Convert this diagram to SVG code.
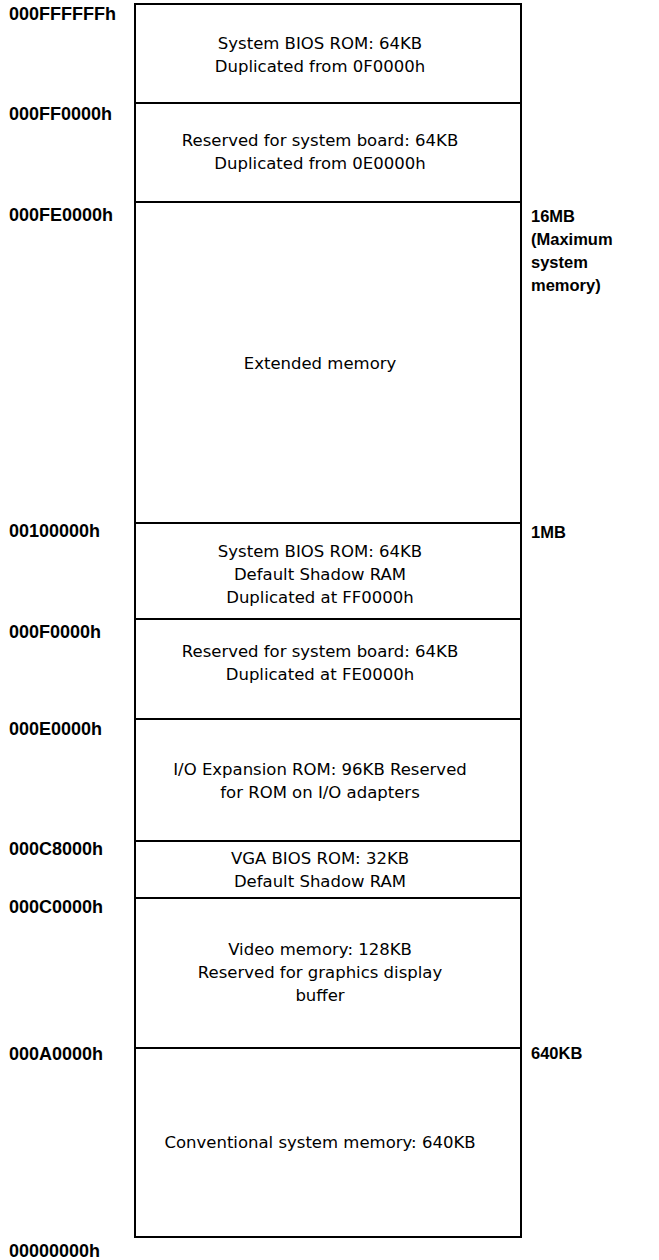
<svg xmlns="http://www.w3.org/2000/svg" width="659" height="1260" viewBox="0 0 659 1260">
<style>
.blk{fill:#fff;stroke:#000;stroke-width:2}
.t{font-family:"DejaVu Sans","Liberation Sans",sans-serif;font-size:16.5px;fill:#000;text-anchor:middle}
.a{font-family:"Liberation Sans",Arial,sans-serif;font-size:18px;font-weight:bold;fill:#000}
.s{font-family:"Liberation Sans",Arial,sans-serif;font-size:16.5px;font-weight:bold;fill:#000}
</style>
<rect width="659" height="1260" fill="#fff"/>
<g id="blk-bios-hi"><rect class="blk" x="135" y="4" width="386" height="99"/>
<text class="t" x="320" y="49">System BIOS ROM: 64KB</text><text class="t" x="320" y="72">Duplicated from 0F0000h</text></g>
<g id="blk-board-hi"><rect class="blk" x="135" y="103" width="386" height="99"/>
<text class="t" x="320" y="146">Reserved for system board: 64KB</text><text class="t" x="320" y="169">Duplicated from 0E0000h</text></g>
<g id="blk-extended"><rect class="blk" x="135" y="202" width="386" height="321"/>
<text class="t" x="320" y="369">Extended memory</text></g>
<g id="blk-bios-lo"><rect class="blk" x="135" y="523" width="386" height="96"/>
<text class="t" x="320" y="557">System BIOS ROM: 64KB</text><text class="t" x="320" y="580">Default Shadow RAM</text><text class="t" x="320" y="603">Duplicated at FF0000h</text></g>
<g id="blk-board-lo"><rect class="blk" x="135" y="619" width="386" height="100"/>
<text class="t" x="320" y="657">Reserved for system board: 64KB</text><text class="t" x="320" y="680">Duplicated at FE0000h</text></g>
<g id="blk-io"><rect class="blk" x="135" y="719" width="386" height="122"/>
<text class="t" x="320" y="775">I/O Expansion ROM: 96KB Reserved</text><text class="t" x="320" y="798">for ROM on I/O adapters</text></g>
<g id="blk-vga"><rect class="blk" x="135" y="841" width="386" height="57"/>
<text class="t" x="320" y="864">VGA BIOS ROM: 32KB</text><text class="t" x="320" y="887">Default Shadow RAM</text></g>
<g id="blk-video"><rect class="blk" x="135" y="898" width="386" height="150"/>
<text class="t" x="320" y="955">Video memory: 128KB</text><text class="t" x="320" y="978">Reserved for graphics display</text><text class="t" x="320" y="1001">buffer</text></g>
<g id="blk-conv"><rect class="blk" x="135" y="1048" width="386" height="189"/>
<text class="t" x="320" y="1148">Conventional system memory: 640KB</text></g>
<g id="addr-labels">
<text class="a" x="9" y="20">000FFFFFFh</text>
<text class="a" x="9" y="120">000FF0000h</text>
<text class="a" x="9" y="221">000FE0000h</text>
<text class="a" x="9" y="537">00100000h</text>
<text class="a" x="9" y="638">000F0000h</text>
<text class="a" x="9" y="735">000E0000h</text>
<text class="a" x="9" y="855">000C8000h</text>
<text class="a" x="9" y="913">000C0000h</text>
<text class="a" x="9" y="1060">000A0000h</text>
<text class="a" x="9" y="1257">00000000h</text>
</g>
<g id="size-labels">
<text class="s" x="531" y="222">16MB</text>
<text class="s" x="531" y="245">(Maximum</text>
<text class="s" x="531" y="268">system</text>
<text class="s" x="531" y="291">memory)</text>
<text class="s" x="531" y="538">1MB</text>
<text class="s" x="531" y="1059">640KB</text>
</g>
<g id="connectors"/>
</svg>
